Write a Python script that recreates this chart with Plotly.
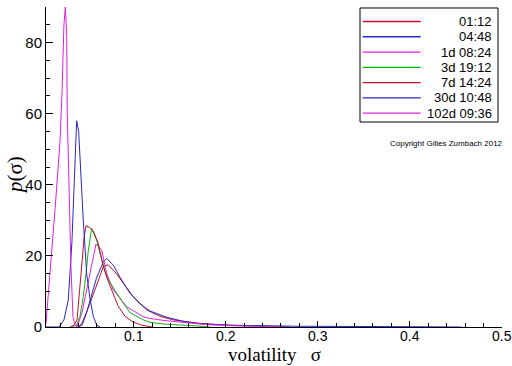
import plotly.graph_objects as go

# ---------------- data ----------------
series_names = ["01:12", "04:48", "1d 08:24", "3d 19:12", "7d 14:24", "30d 10:48", "102d 09:36"]
series_colors = ["#c0102a", "#2828c8", "#e020e0", "#10b010", "#c0102a", "#2828c8", "#e020e0"]

sig_0112 = [0.0395, 0.0438, 0.0525, 0.0615, 0.0670, 0.0721, 0.0797, 0.0887, 0.0996, 0.1141,
            0.1286, 0.1430, 0.1721, 0.2047, 0.2373, 0.2699]
p_0112 = [0, 1, 6.6, 13.2, 17, 17.5, 15.5, 12.3, 8.5, 4.8, 3, 2, 1, 0.5, 0.2, 0]

sig_0448 = [0.0395, 0.0438, 0.0482, 0.0525, 0.0598, 0.0670, 0.0707, 0.0778, 0.0851, 0.0960,
            0.1068, 0.1177, 0.1351, 0.1536, 0.1721, 0.2047, 0.2808, 0.3895, 0.4565]
p_0448 = [0, 0.5, 3.5, 7.6, 14, 18.3, 19.3, 17.4, 14, 9.5, 6.5, 4.5, 2.8, 1.6, 0.9, 0.5, 0.2, 0.1, 0]

sig_1d = [0.0373, 0.0398, 0.0438, 0.0489, 0.0543, 0.0590, 0.0652, 0.0707, 0.0778, 0.0924,
          0.1104, 0.1177, 0.1340, 0.1539, 0.1829, 0.2155, 0.2590]
p_1d = [0, 1, 4, 10.4, 17, 23.3, 21.6, 15, 10.4, 5.7, 2.9, 2.4, 1.8, 1.3, 0.6, 0.3, 0]

sig_3d = [0.0329, 0.0380, 0.0416, 0.0452, 0.0482, 0.0507, 0.0543, 0.0598, 0.0634, 0.0707,
          0.0815, 0.0960, 0.1104, 0.1177, 0.1340, 0.1449, 0.1688, 0.1829]
p_3d = [0, 0.6, 3, 8.5, 15, 21.6, 27.7, 24.4, 20.7, 14, 9.5, 4, 2, 1.3, 0.8, 0.7, 0.3, 0]

sig_7d = [0.0308, 0.0351, 0.0384, 0.0395, 0.0416, 0.0438, 0.0460, 0.0482, 0.0520, 0.0561,
          0.0615, 0.0670, 0.0721, 0.0775, 0.0829, 0.0906, 0.0992, 0.1090, 0.1199]
p_7d = [0, 0.5, 2, 5, 11, 18, 25, 28.5, 28, 27, 23.5, 17, 13, 9.5, 6, 3, 1.4, 0.5, 0]

sig_30d = [0.0047, 0.0188, 0.0242, 0.0289, 0.0329, 0.0380, 0.0402, 0.0416, 0.0452, 0.0489,
           0.0525, 0.0561, 0.0598, 0.0634]
p_30d = [0, 0, 2, 7.6, 24, 58, 55, 47, 30, 15, 8, 3, 0.5, 0]

sig_102d = [0.0047, 0.0090, 0.0145, 0.0199, 0.0221, 0.0242, 0.0257, 0.0272, 0.0278, 0.0297,
            0.0318, 0.0340, 0.0362, 0.0416]
p_102d = [1, 14, 33, 52, 66, 85, 90, 82, 60, 40, 17, 3, 0.5, 0]

series_x = [sig_0112, sig_0448, sig_1d, sig_3d, sig_7d, sig_30d, sig_102d]
series_y = [p_0112, p_0448, p_1d, p_3d, p_7d, p_30d, p_102d]

x_ticks = [0.1, 0.2, 0.3, 0.4, 0.5]
x_tick_labels = ["0.1", "0.2", "0.3", "0.4", "0.5"]
y_ticks = [0, 20, 40, 60, 80]
y_tick_labels = ["0", "20", "40", "60", "80"]
x_title = "volatility &nbsp; σ"
y_title = "<i>p</i>(σ)"
copyright_text = "Copyright Gilles Zumbach 2012"

# ---------------- figure ----------------
fig = go.Figure()
for name, col, xs, ys in zip(series_names, series_colors, series_x, series_y):
    fig.add_trace(go.Scatter(x=xs, y=ys, mode="lines", name=name,
                             line=dict(color=col, width=1), showlegend=False))

fig.update_layout(
    width=512, height=366,
    margin=dict(l=46, r=10, t=7, b=39, autoexpand=False),
    paper_bgcolor="white", plot_bgcolor="white",
    showlegend=False,
    xaxis=dict(range=[0.0047, 0.5002], tickvals=x_ticks, ticktext=x_tick_labels,
               ticks="inside", ticklen=6, tickcolor="black", tickwidth=1,
               minor=dict(dtick=0.02, ticks="inside", ticklen=4, tickcolor="black", tickwidth=1),
               showline=True, linecolor="black", linewidth=1, showgrid=False, zeroline=False,
               tickfont=dict(family="Liberation Sans", size=14, color="black"),
               automargin=False, ticklabeloverflow="allow", ticklabelstandoff=-4),
    yaxis=dict(range=[0, 90], tickvals=y_ticks, ticktext=y_tick_labels,
               ticks="inside", ticklen=7, tickcolor="black", tickwidth=1,
               minor=dict(dtick=5, ticks="inside", ticklen=4, tickcolor="black", tickwidth=1),
               showline=True, linecolor="black", linewidth=1, showgrid=False, zeroline=False,
               tickfont=dict(family="Liberation Sans", size=15, color="black"), automargin=False),
)

# axis titles
fig.add_annotation(xref="paper", yref="paper", x=0.5, y=-0.1205, text=x_title, showarrow=False,
                   xanchor="center", yanchor="bottom", borderpad=0,
                   font=dict(family="Liberation Serif", size=19, color="black"))
fig.add_annotation(xref="paper", yref="paper", x=-0.068, y=0.475, text=y_title, showarrow=False,
                   xanchor="center", yanchor="middle", textangle=-90,
                   font=dict(family="Liberation Serif", size=21, color="black"))

# ---------------- custom legend box ----------------
lx0, lx1, ly0, ly1 = 0.6886, 0.9912, 0.6406, 0.9969
fig.add_shape(type="rect", xref="paper", yref="paper", x0=lx0, x1=lx1, y0=ly0, y1=ly1,
              line=dict(color="black", width=1), fillcolor="white", layer="above")
row_top, row_step = 1 - 14.5 / 320, 15.27 / 320
for i, (name, col) in enumerate(zip(series_names, series_colors)):
    yy = row_top - i * row_step
    fig.add_shape(type="line", xref="paper", yref="paper", x0=0.6945, x1=0.8217, y0=yy, y1=yy,
                  line=dict(color=col, width=1.3), layer="above")
    fig.add_annotation(xref="paper", yref="paper", x=0.9825, y=yy, text=name, showarrow=False,
                       xanchor="right", yanchor="middle",
                       font=dict(family="Liberation Sans", size=13, color="black"))

fig.add_annotation(xref="paper", yref="paper", x=1.0066, y=0.575, text=copyright_text,
                   showarrow=False, xanchor="right", yanchor="middle",
                   font=dict(family="Liberation Sans", size=8, color="black"))

fig.write_html("out.html", config={"displayModeBar": False},
               post_script="document.body.style.margin='0';document.body.style.overflow='hidden';")
